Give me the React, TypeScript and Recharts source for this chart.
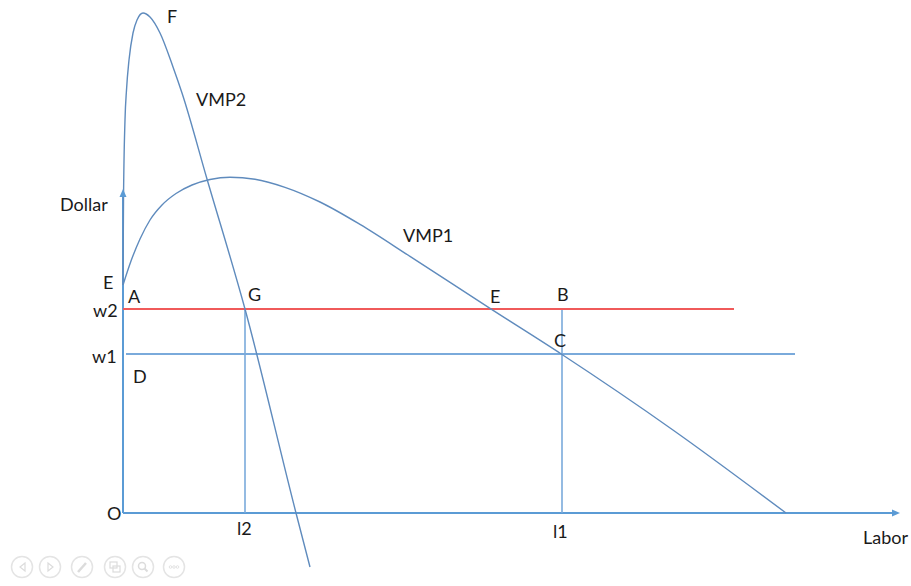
import { LineChart, Line, XAxis, YAxis, ReferenceLine, ReferenceDot } from "recharts";

// curve points, x = labor, y = dollar
const vmp1 = [
  { x: 0, y: 22.8 },
  { x: 0.8, y: 25.2 },
  { x: 1.7, y: 27.4 },
  { x: 2.7, y: 29.3 },
  { x: 3.9, y: 30.8 },
  { x: 5.3, y: 31.95 },
  { x: 6.9, y: 32.8 },
  { x: 8.7, y: 33.35 },
  { x: 10.7, y: 33.58 },
  { x: 13.2, y: 33.38 },
  { x: 16.2, y: 32.57 },
  { x: 19.7, y: 31.1 },
  { x: 23.7, y: 28.86 },
  { x: 28.7, y: 25.66 },
  { x: 36.7, y: 20.46 },
  { x: 43.9, y: 15.85 },
  { x: 55.1, y: 8.23 },
  { x: 66.3, y: 0 },
];

const vmp2 = [
  { x: 0, y: 22.8 },
  { x: 0.05, y: 31.3 },
  { x: 0.2, y: 39.3 },
  { x: 0.35, y: 42.3 },
  { x: 0.6, y: 45.3 },
  { x: 1.0, y: 48.0 },
  { x: 1.4, y: 49.3 },
  { x: 2.0, y: 50.0 },
  { x: 2.7, y: 49.6 },
  { x: 3.7, y: 48.0 },
  { x: 5.0, y: 44.6 },
  { x: 5.9, y: 42.0 },
  { x: 8.4, y: 33.4 },
  { x: 12.2, y: 20.4 },
  { x: 17.3, y: 0 },
  { x: 18.7, y: -5.4 },
];

const w2 = 20.4;
const w1 = 15.9;
const l2 = 12.2;
const l1 = 43.9;
const w2End = 61.1;
const w1Span = [0.3, 67.2];
const xAxisEnd = 77.7;
const yAxisEnd = 32.4;

const labels = [
  { text: "F", x: 4.4, y: 49.0 },
  { text: "VMP2", x: 7.3, y: 40.7 },
  { text: "Dollar", x: -6.3, y: 30.2 },
  { text: "VMP1", x: 28.0, y: 27.1 },
  { text: "E", x: -2.0, y: 22.4 },
  { text: "A", x: 0.5, y: 21.0 },
  { text: "G", x: 12.5, y: 21.2 },
  { text: "w2", x: -3.0, y: 19.6 },
  { text: "w1", x: -3.1, y: 15.0 },
  { text: "D", x: 1.0, y: 13.0 },
  { text: "E", x: 36.7, y: 21.0 },
  { text: "B", x: 43.4, y: 21.2 },
  { text: "C", x: 43.1, y: 16.6 },
  { text: "O", x: -1.6, y: -0.7 },
  { text: "l2", x: 11.4, y: -2.2 },
  { text: "l1", x: 43.0, y: -2.5 },
  { text: "Labor", x: 74.0, y: -3.1 },
];

const AXIS = "#5b9bd5";
const CURVE = "#5f8bbd";
const THIN = "#7aaadb";
const RED = "#f05a5a";
const FONT = "Lato, 'Open Sans', sans-serif";

const iconX = [22, 50, 82, 115, 143, 174];

function SlideIcons() {
  return (
    <svg
      width={911}
      height={586}
      style={{ position: "absolute", left: 0, top: 0, pointerEvents: "none" }}
    >
      {iconX.map((cx) => (
        <circle key={cx} cx={cx} cy={567} r={10.5} fill="none" stroke="#e4e4e4" strokeWidth={1.5} />
      ))}
      <path d="M25,563 l-5,4 l5,4 z" fill="none" stroke="#dcdcdc" strokeWidth={1.2} />
      <path d="M48,563 l5,4 l-5,4 z" fill="none" stroke="#dcdcdc" strokeWidth={1.2} />
      <path d="M78,572 l8,-9" stroke="#dcdcdc" strokeWidth={2.5} />
      <rect x={110} y={562} width={7} height={6} fill="none" stroke="#dcdcdc" strokeWidth={1.2} />
      <rect x={113} y={566} width={7} height={6} fill="none" stroke="#dcdcdc" strokeWidth={1.2} />
      <circle cx={142} cy={566} r={3.5} fill="none" stroke="#dcdcdc" strokeWidth={1.5} />
      <path d="M144.5,568.5 l3,3" stroke="#dcdcdc" strokeWidth={2} />
      {[-3.5, 0, 3.5].map((d) => (
        <circle key={d} cx={174 + d} cy={567} r={1.3} fill="none" stroke="#dcdcdc" strokeWidth={0.8} />
      ))}
    </svg>
  );
}

export default function App() {
  return (
    <div style={{ position: "absolute", left: 0, top: 0, width: 911, height: 586, background: "#fff" }}>
      <SlideIcons />
      <LineChart
        width={911}
        height={586}
        margin={{ top: 3, right: 8, bottom: 3, left: 3 }}
        style={{ fontFamily: FONT }}
      >
        <XAxis type="number" dataKey="x" domain={[-12, 78]} hide allowDataOverflow />
        <YAxis type="number" dataKey="y" domain={[-7, 51]} hide allowDataOverflow />

        {/* axes with arrow heads */}
        <ReferenceLine
          segment={[{ x: 0, y: 0 }, { x: xAxisEnd - 0.6, y: 0 }]}
          stroke={AXIS}
          strokeWidth={2}
          ifOverflow="visible"
        />
        <ReferenceLine
          segment={[{ x: 0, y: 0 }, { x: 0, y: yAxisEnd - 0.6 }]}
          stroke={AXIS}
          strokeWidth={2}
          ifOverflow="visible"
        />
        <ReferenceDot
          x={xAxisEnd}
          y={0}
          ifOverflow="visible"
          shape={(p: any) => <path d={`M${p.cx},${p.cy} l-8,-3.5 l0,7 z`} fill={AXIS} />}
        />
        <ReferenceDot
          x={0}
          y={yAxisEnd}
          ifOverflow="visible"
          shape={(p: any) => <path d={`M${p.cx},${p.cy} l-3.5,8 l7,0 z`} fill={AXIS} />}
        />

        {/* wage lines and labor verticals */}
        <ReferenceLine
          segment={[{ x: w1Span[0], y: w1 }, { x: w1Span[1], y: w1 }]}
          stroke={THIN}
          strokeWidth={1.8}
          ifOverflow="visible"
        />
        <ReferenceLine
          segment={[{ x: l2, y: 0 }, { x: l2, y: w2 }]}
          stroke={THIN}
          strokeWidth={1.6}
          ifOverflow="visible"
        />
        <ReferenceLine
          segment={[{ x: l1, y: 0 }, { x: l1, y: w2 }]}
          stroke={THIN}
          strokeWidth={1.6}
          ifOverflow="visible"
        />
        <ReferenceLine
          segment={[{ x: 0, y: w2 }, { x: w2End, y: w2 }]}
          stroke={RED}
          strokeWidth={1.8}
          ifOverflow="visible"
        />

        <Line
          data={vmp1}
          dataKey="y"
          type="monotone"
          stroke={CURVE}
          strokeWidth={1.4}
          dot={false}
          activeDot={false}
          isAnimationActive={false}
        />
        <Line
          data={vmp2}
          dataKey="y"
          type="monotone"
          stroke={CURVE}
          strokeWidth={1.4}
          dot={false}
          activeDot={false}
          isAnimationActive={false}
        />

        {labels.map((l, i) => (
          <ReferenceDot
            key={i}
            x={l.x}
            y={l.y}
            ifOverflow="visible"
            shape={(p: any) => (
              <text x={p.cx} y={p.cy} fontSize={18} fill="#1a1a1a" fontFamily={FONT}>
                {l.text}
              </text>
            )}
          />
        ))}
      </LineChart>
    </div>
  );
}
